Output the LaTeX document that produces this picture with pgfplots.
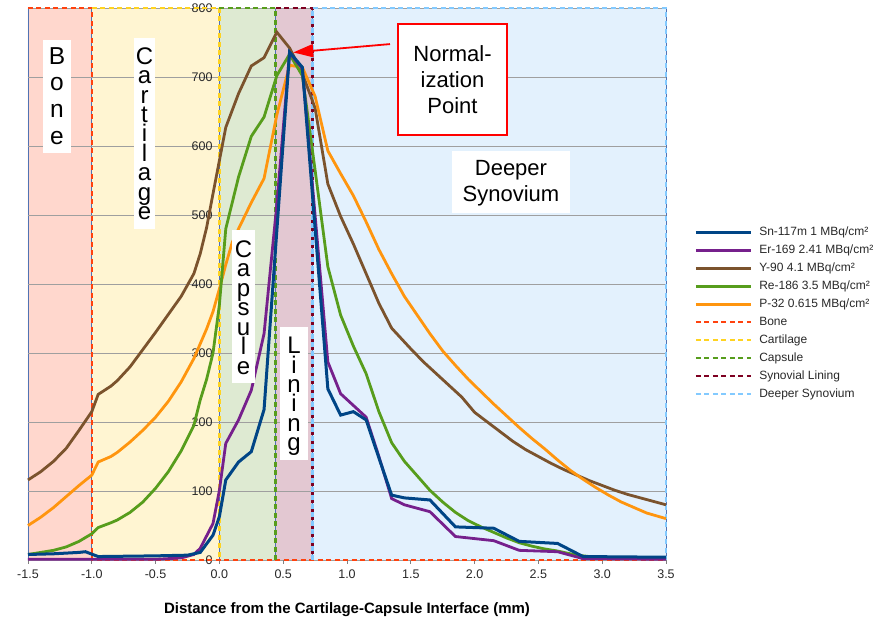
\documentclass[border=0pt]{standalone}
\usepackage{fontspec}
\setmainfont{Liberation Sans}
\usepackage{pgfplots}
\pgfplotsset{compat=1.18}
\usetikzlibrary{arrows.meta}
\definecolor{snblue}{RGB}{0,69,134}
\definecolor{erpurple}{RGB}{118,32,140}
\definecolor{ybrown}{RGB}{123,83,45}
\definecolor{regreen}{RGB}{87,157,28}
\definecolor{porange}{RGB}{255,149,14}
\definecolor{bonec}{RGB}{255,66,14}
\definecolor{cartc}{RGB}{255,211,32}
\definecolor{capc}{RGB}{87,157,28}
\definecolor{linc}{RGB}{126,0,33}
\definecolor{deepc}{RGB}{131,202,255}
\definecolor{bonef}{RGB}{255,215,205}
\definecolor{cartf}{RGB}{255,245,210}
\definecolor{capf}{RGB}{222,234,210}
\definecolor{linf}{RGB}{227,200,210}
\definecolor{deepf}{RGB}{227,241,253}
\definecolor{edgec}{RGB}{80,115,180}
\definecolor{txtc}{RGB}{40,40,40}
\begin{document}
\begin{tikzpicture}
\begin{axis}[
  set layers,
  clip=false,
  scale only axis,
  width=638pt, height=552pt,
  xmin=-1.5, xmax=3.5, ymin=0, ymax=800,
  axis line style={draw=none},
  xtick={-1.5,-1,-0.5,0,0.5,1,1.5,2,2.5,3,3.5},
  xticklabels={-1.5,-1.0,-0.5,0.0,0.5,1.0,1.5,2.0,2.5,3.0,3.5},
  ytick={0,100,200,300,400,500,600,700,800},
  yticklabels={0,100,200,300,400,500,600,700,800},
  xtick pos=bottom, ytick pos=left,
  tick align=outside,
  major tick length=4pt,
  xtick style={draw=gray, line width=0.8pt},
  ytick style={draw=none},
  yticklabel style={xshift=192pt},
  xticklabel style={yshift=-2pt},
  ticklabel style={font=\fontsize{12.5}{14}\selectfont, text=txtc},
  ymajorgrids,
  grid style={draw=gray!75, line width=0.8pt},
  xlabel={Distance from the Cartilage-Capsule Interface (mm)},
  xlabel style={font=\fontsize{15}{17}\selectfont\bfseries, at={(axis description cs:0.5,-0.09)}, anchor=center},
  legend style={at={(1.044,0.6105)}, anchor=north west, draw=none, fill=none, inner sep=0pt,
    font=\fontsize{12}{14}\selectfont, text=txtc, row sep=0pt,
    nodes={text height=9pt, text depth=3pt, inner sep=3pt},
    /tikz/every odd column/.append style={column sep=4pt}},
  legend cell align=left,
  legend image code/.code={\draw[#1] (0pt,0pt) -- (55pt,0pt);},
]
% region fills
\addplot[on layer=axis background, forget plot, fill=bonef, draw=edgec, line width=0.9pt] coordinates {(-1.5,0) (-1.5,800) (-1.0,800) (-1.0,0)} \closedcycle;
\addplot[on layer=axis background, forget plot, fill=cartf, draw=edgec, line width=0.9pt] coordinates {(-1.0,0) (-1.0,800) (0,800) (0,0)} \closedcycle;
\addplot[on layer=axis background, forget plot, fill=capf, draw=edgec, line width=0.9pt] coordinates {(0,0) (0,800) (0.44,800) (0.44,0)} \closedcycle;
\addplot[on layer=axis background, forget plot, fill=linf, draw=edgec, line width=0.9pt] coordinates {(0.44,0) (0.44,800) (0.73,800) (0.73,0)} \closedcycle;
\addplot[on layer=axis background, forget plot, fill=deepf, draw=edgec, line width=0.9pt] coordinates {(0.73,0) (0.73,800) (3.5,800) (3.5,0)} \closedcycle;
% dashed region outlines
\addplot[forget plot, bonec, line width=2.4pt, dash pattern=on 5pt off 3.5pt] coordinates {(-1.5,800) (-1.0,800) (-1.0,0) (3.5,0)};
\addplot[forget plot, cartc, line width=2.4pt, dash pattern=on 5pt off 3.5pt] coordinates {(-1.0,800) (0,800) (0,0)};
\addplot[forget plot, capc, line width=2.4pt, dash pattern=on 5pt off 3.5pt] coordinates {(0,800) (0.44,800) (0.44,0)};
\addplot[forget plot, linc, line width=2.4pt, dash pattern=on 5pt off 3.5pt] coordinates {(0.44,800) (0.73,800) (0.73,0)};
\addplot[forget plot, deepc, line width=2.4pt, dash pattern=on 5pt off 3.5pt] coordinates {(0.73,0) (0.73,800) (3.5,800) (3.5,0)};
% Y-90
\addplot[forget plot, ybrown, line width=2.8pt] coordinates {
(-1.5,116) (-1.4,128) (-1.3,143) (-1.2,162) (-1.1,188) (-1.0,215) (-0.95,240) (-0.85,252) (-0.8,260) (-0.7,280) (-0.6,305) (-0.5,330) (-0.4,356) (-0.3,382) (-0.2,415) (-0.15,444) (-0.1,482) (-0.05,531) (0,579) (0.05,627) (0.15,676) (0.25,716) (0.35,728) (0.45,765) (0.55,742) (0.65,705) (0.75,655) (0.85,545) (0.95,498) (1.05,458) (1.15,415) (1.25,372) (1.35,336) (1.5,306) (1.6,287) (1.7,270) (1.8,253) (1.9,236) (2.0,214) (2.1,200) (2.2,186) (2.3,172) (2.4,160) (2.5,150) (2.6,140) (2.7,131) (2.8,123) (2.9,115) (3.0,108) (3.1,101) (3.2,95) (3.3,90) (3.4,85) (3.5,80)};
% P-32
\addplot[forget plot, porange, line width=2.8pt] coordinates {
(-1.5,50) (-1.4,62) (-1.3,76) (-1.2,92) (-1.1,108) (-1.0,123) (-0.95,142) (-0.85,150) (-0.8,156) (-0.7,171) (-0.6,188) (-0.5,207) (-0.4,230) (-0.3,258) (-0.2,292) (-0.1,335) (-0.05,360) (0,393) (0.05,428) (0.1,460) (0.15,480) (0.25,518) (0.35,553) (0.45,645) (0.55,717) (0.65,714) (0.75,672) (0.85,593) (0.95,560) (1.05,528) (1.15,490) (1.25,450) (1.35,415) (1.45,382) (1.55,355) (1.65,328) (1.75,303) (1.85,282) (1.95,262) (2.05,244) (2.15,226) (2.25,209) (2.35,192) (2.45,176) (2.55,161) (2.65,145) (2.75,130) (2.85,117) (2.95,105) (3.05,94) (3.15,84) (3.25,76) (3.35,68) (3.5,60)};
% Re-186
\addplot[forget plot, regreen, line width=2.8pt] coordinates {
(-1.5,8) (-1.4,11) (-1.3,14) (-1.2,19) (-1.1,27) (-1.0,38) (-0.95,47) (-0.85,54) (-0.8,58) (-0.7,69) (-0.6,84) (-0.5,104) (-0.4,128) (-0.3,158) (-0.2,195) (-0.15,232) (-0.1,262) (-0.05,300) (0,370) (0.05,480) (0.15,555) (0.25,614) (0.35,642) (0.45,702) (0.55,733) (0.65,702) (0.75,565) (0.85,425) (0.95,355) (1.05,310) (1.15,270) (1.25,215) (1.35,170) (1.45,143) (1.55,122) (1.65,101) (1.75,84) (1.85,69) (1.95,57) (2.05,48) (2.15,40) (2.25,32) (2.35,25) (2.45,20) (2.55,16) (2.65,13) (2.75,9) (2.85,6) (2.95,4) (3.05,3) (3.5,2)};
% Er-169
\addplot[forget plot, erpurple, line width=2.8pt] coordinates {
(-1.5,1) (-0.5,1) (-0.3,3) (-0.2,8) (-0.15,17) (-0.05,53) (0,101) (0.05,169) (0.15,203) (0.25,246) (0.35,328) (0.45,515) (0.55,735) (0.65,712) (0.85,287) (0.95,241) (1.15,207) (1.25,150) (1.35,89) (1.45,80) (1.65,70) (1.85,34) (2.15,28) (2.35,14) (2.65,12) (2.85,2) (3.5,1)};
% Sn-117m
\addplot[forget plot, snblue, line width=3pt] coordinates {
(-1.5,8) (-1.3,9) (-1.1,11) (-1.05,12) (-0.95,5) (-0.5,6) (-0.25,7) (-0.15,11) (-0.05,36) (0,63) (0.05,116) (0.15,142) (0.25,157) (0.35,218) (0.55,736) (0.65,714) (0.85,248) (0.95,210) (1.05,215) (1.15,203) (1.25,148) (1.35,94) (1.45,90) (1.65,87) (1.85,48) (2.15,46) (2.35,27) (2.65,24) (2.85,5) (3.5,4)};
% legend
\addlegendimage{snblue, line width=3pt}\addlegendentry{Sn-117m 1 MBq/cm²}
\addlegendimage{erpurple, line width=2.8pt}\addlegendentry{Er-169 2.41 MBq/cm²}
\addlegendimage{ybrown, line width=2.8pt}\addlegendentry{Y-90 4.1 MBq/cm²}
\addlegendimage{regreen, line width=2.8pt}\addlegendentry{Re-186 3.5 MBq/cm²}
\addlegendimage{porange, line width=2.8pt}\addlegendentry{P-32 0.615 MBq/cm²}
\addlegendimage{bonec, line width=2.4pt, dash pattern=on 5pt off 3.5pt}\addlegendentry{Bone}
\addlegendimage{cartc, line width=2.4pt, dash pattern=on 5pt off 3.5pt}\addlegendentry{Cartilage}
\addlegendimage{capc, line width=2.4pt, dash pattern=on 5pt off 3.5pt}\addlegendentry{Capsule}
\addlegendimage{linc, line width=2.4pt, dash pattern=on 5pt off 3.5pt}\addlegendentry{Synovial Lining}
\addlegendimage{deepc, line width=2.4pt, dash pattern=on 5pt off 3.5pt}\addlegendentry{Deeper Synovium}
% text boxes
\fill[white] (axis cs:-1.382,590.4) rectangle (axis cs:-1.163,754.0);
\node[anchor=north, inner sep=0pt, align=center, font=\fontsize{24.5}{26.6}\selectfont] at (axis cs:-1.273,743) {B\\o\\n\\e};
\fill[white] (axis cs:-0.669,479.0) rectangle (axis cs:-0.505,756.9);
\node[anchor=north, inner sep=0pt, align=center, font=\fontsize{24}{19.4}\selectfont] at (axis cs:-0.587,743) {C\\a\\r\\t\\i\\l\\a\\g\\e};
\fill[white] (axis cs:0.099,256.2) rectangle (axis cs:0.279,477.6);
\node[anchor=north, inner sep=0pt, align=center, font=\fontsize{24}{19.5}\selectfont] at (axis cs:0.189,463) {C\\a\\p\\s\\u\\l\\e};
\fill[white] (axis cs:0.475,144.7) rectangle (axis cs:0.694,337.2);
\node[anchor=north, inner sep=0pt, align=center, font=\fontsize{24}{19.3}\selectfont] at (axis cs:0.585,323) {L\\i\\n\\i\\n\\g};
\fill[white] (axis cs:1.822,503.6) rectangle (axis cs:2.747,593.3);
\node[anchor=north, inner sep=0pt, align=center, font=\fontsize{22}{26}\selectfont] at (axis cs:2.285,579) {Deeper\\Synovium};
\filldraw[fill=white, draw=red, line width=2pt] (axis cs:1.399,616.5) rectangle (axis cs:2.253,777.1);
\node[anchor=north, inner sep=0pt, align=center, font=\fontsize{22}{25.8}\selectfont] at (axis cs:1.827,745.3) {Normal-\\ization\\Point};
\draw[red, line width=1.8pt, -{Triangle[length=20pt,width=13pt]}] (axis cs:1.337,747.7) -- (axis cs:0.579,735.6);
\end{axis}
\path (-28pt,-61pt) rectangle (861pt,560pt);
\end{tikzpicture}
\end{document}
